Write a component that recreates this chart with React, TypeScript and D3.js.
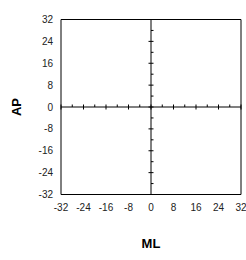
import { useEffect, useRef } from 'react';
import * as d3 from 'd3';

const width = 246;
const height = 260;

const xMajorTicks = [-32, -24, -16, -8, 0, 8, 16, 24, 32];
const xMinorTicks = [-28, -20, -12, -4, 4, 12, 20, 28];
const yMajorTicks = [-32, -24, -16, -8, 0, 8, 16, 24, 32];
const yMinorTicks = [-28, -20, -12, -4, 4, 12, 20, 28];
const xLabel = 'ML';
const yLabel = 'AP';

const fontFamily = '"Liberation Sans", Arial, sans-serif';

export default function App() {
  const ref = useRef<SVGSVGElement>(null);

  useEffect(() => {
    const svg = d3.select(ref.current);
    svg.selectAll('*').remove();

    const x = d3.scaleLinear().domain([-32, 32]).range([61, 241]);
    const y = d3.scaleLinear().domain([-32, 32]).range([194.5, 19.5]);

    const g = svg.append('g');

    // plot frame: top/bottom black, sides soft
    g.append('line')
      .attr('x1', x(-32)).attr('x2', x(32))
      .attr('y1', y(32)).attr('y2', y(32))
      .attr('stroke', '#000');
    g.append('line')
      .attr('x1', x(-32)).attr('x2', x(32))
      .attr('y1', y(-32)).attr('y2', y(-32))
      .attr('stroke', '#000');
    g.append('line')
      .attr('x1', x(-32)).attr('x2', x(-32))
      .attr('y1', y(32)).attr('y2', y(-32))
      .attr('stroke', '#000');
    g.append('line')
      .attr('x1', x(32)).attr('x2', x(32))
      .attr('y1', y(32)).attr('y2', y(-32))
      .attr('stroke', '#000');

    // axes through zero
    g.append('line')
      .attr('x1', x(-32)).attr('x2', x(32))
      .attr('y1', y(0)).attr('y2', y(0))
      .attr('stroke', '#000');
    g.append('line')
      .attr('x1', x(0)).attr('x2', x(0))
      .attr('y1', y(32)).attr('y2', y(-32))
      .attr('stroke', '#000');

    // x axis ticks
    g.selectAll('.xmaj').data(xMajorTicks).enter().append('line')
      .attr('x1', d => x(d)).attr('x2', d => x(d))
      .attr('y1', y(0) - 2.5).attr('y2', y(0) + 2.5)
      .attr('stroke', '#000');
    g.selectAll('.xmin').data(xMinorTicks).enter().append('line')
      .attr('x1', d => x(d)).attr('x2', d => x(d))
      .attr('y1', y(0) - 2.5).attr('y2', y(0))
      .attr('stroke', '#000');

    // y axis ticks
    g.selectAll('.ymaj').data(yMajorTicks).enter().append('line')
      .attr('x1', x(0) - 2.5).attr('x2', x(0) + 2.5)
      .attr('y1', d => y(d)).attr('y2', d => y(d))
      .attr('stroke', '#000');
    g.selectAll('.ymin').data(yMinorTicks).enter().append('line')
      .attr('x1', x(0)).attr('x2', x(0) + 2.5)
      .attr('y1', d => y(d)).attr('y2', d => y(d))
      .attr('stroke', '#000');

    // tick labels
    g.selectAll('.ylab').data(yMajorTicks).enter().append('text')
      .attr('x', 53)
      .attr('y', d => y(d))
      .attr('dy', '0.35em')
      .attr('text-anchor', 'end')
      .attr('font-family', fontFamily)
      .attr('font-size', 10)
      .attr('fill', '#222')
      .text(d => String(d));
    g.selectAll('.xlab').data(xMajorTicks).enter().append('text')
      .attr('x', d => x(d))
      .attr('y', 207)
      .attr('dy', '0.35em')
      .attr('text-anchor', 'middle')
      .attr('font-family', fontFamily)
      .attr('font-size', 10)
      .attr('fill', '#222')
      .text(d => String(d));

    // axis titles
    svg.append('text')
      .attr('x', x(0))
      .attr('y', 243)
      .attr('dy', '0.35em')
      .attr('text-anchor', 'middle')
      .attr('font-family', fontFamily)
      .attr('font-size', 13)
      .attr('font-weight', 'bold')
      .text(xLabel);
    svg.append('text')
      .attr('transform', 'translate(16,' + y(0) + ') rotate(-90)')
      .attr('dy', '0.35em')
      .attr('text-anchor', 'middle')
      .attr('font-family', fontFamily)
      .attr('font-size', 13)
      .attr('font-weight', 'bold')
      .text(yLabel);
  }, []);

  return (
    <svg
      ref={ref}
      width={width}
      height={height}
      style={{ position: 'absolute', left: 0, top: 0, background: '#fff' }}
    />
  );
}
